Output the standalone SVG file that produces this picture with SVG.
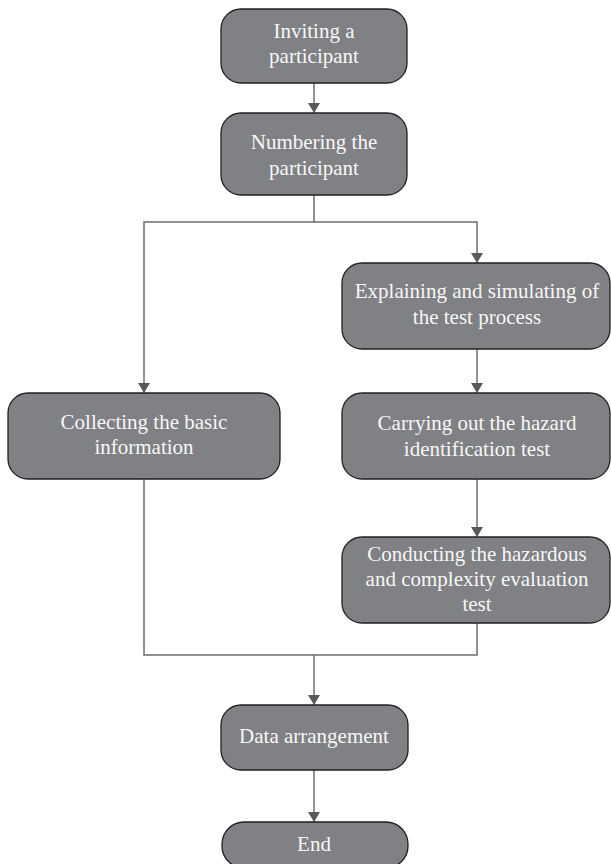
<svg xmlns="http://www.w3.org/2000/svg" width="611" height="864" viewBox="0 0 611 864">
<defs>
<marker id="arr" viewBox="0 0 10 12" refX="10" refY="6" markerWidth="10" markerHeight="12" markerUnits="userSpaceOnUse" orient="auto">
<path d="M0,0 L10,6 L0,12 Z" fill="#58595b"/>
</marker>
<style>
.box{fill:#808184;stroke:#231f20;stroke-width:1.3}
.t{font-family:"Liberation Serif","DejaVu Serif",serif;font-size:21px;fill:#f7f7f7;text-anchor:middle}
.c{fill:none;stroke:#6d6e71;stroke-width:1.5}
</style>
</defs>
<rect width="611" height="864" fill="#ffffff"/>
<g id="connectors">
<line class="c" x1="314" y1="83" x2="314" y2="113" marker-end="url(#arr)"/>
<polyline class="c" points="314,195 314,222 144,222 144,393" marker-end="url(#arr)"/>
<polyline class="c" points="314,222 477,222 477,263" marker-end="url(#arr)"/>
<line class="c" x1="477" y1="349" x2="477" y2="393" marker-end="url(#arr)"/>
<line class="c" x1="477" y1="479" x2="477" y2="537" marker-end="url(#arr)"/>
<polyline class="c" points="144,479 144,655 477,655 477,623"/>
<line class="c" x1="314" y1="655" x2="314" y2="705" marker-end="url(#arr)"/>
<line class="c" x1="314" y1="770" x2="314" y2="822" marker-end="url(#arr)"/>
</g>
<g id="n1">
<rect class="box" x="221" y="9" width="186" height="74" rx="20"/>
<text class="t" x="314" y="38">Inviting a</text>
<text class="t" x="314" y="63">participant</text>
</g>
<g id="n2">
<rect class="box" x="221" y="113" width="186" height="82" rx="20"/>
<text class="t" x="314" y="149">Numbering the</text>
<text class="t" x="314" y="175">participant</text>
</g>
<g id="n3">
<rect class="box" x="342" y="263" width="268" height="86" rx="20"/>
<text class="t" x="477" y="298">Explaining and simulating of</text>
<text class="t" x="477" y="324">the test process</text>
</g>
<g id="n4">
<rect class="box" x="8" y="393" width="272" height="86" rx="20"/>
<text class="t" x="144" y="429">Collecting the basic</text>
<text class="t" x="144" y="454">information</text>
</g>
<g id="n5">
<rect class="box" x="342" y="393" width="268" height="86" rx="20"/>
<text class="t" x="477" y="430">Carrying out the hazard</text>
<text class="t" x="477" y="456">identification test</text>
</g>
<g id="n6">
<rect class="box" x="342" y="537" width="268" height="86" rx="20"/>
<text class="t" x="477" y="561">Conducting the hazardous</text>
<text class="t" x="477" y="586">and complexity evaluation</text>
<text class="t" x="477" y="611">test</text>
</g>
<g id="n7">
<rect class="box" x="221" y="705" width="187" height="65" rx="20"/>
<text class="t" x="314" y="743">Data arrangement</text>
</g>
<g id="n8">
<rect class="box" x="222" y="822" width="186" height="46" rx="22"/>
<text class="t" x="314" y="851">End</text>
</g>
</svg>
